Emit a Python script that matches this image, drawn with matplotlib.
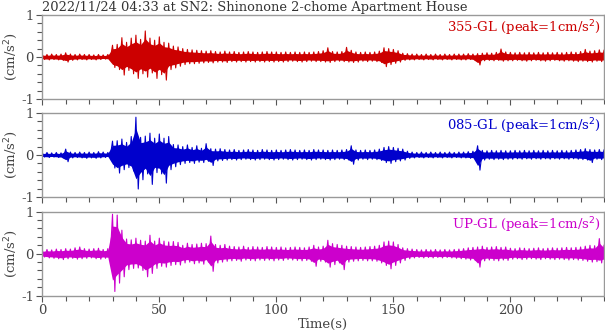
import numpy as np
import matplotlib
matplotlib.use("Agg")
import matplotlib.pyplot as plt
from matplotlib.ticker import MultipleLocator

plt.rcParams['font.family'] = ['DejaVu Serif']

# time axis: envelope samples every 2 s
time_s = np.arange(0, 241, 2)

# 355-GL envelope (cm/s^2)
hi_355 = [0.06,0.06,0.07,0.06,0.07,0.10,0.07,0.06,0.07,0.06,
          0.06,0.05,0.06,0.05,0.06,0.28,0.30,0.46,0.35,0.45,
          0.52,0.42,0.62,0.45,0.40,0.48,0.35,0.33,0.26,0.24,
          0.20,0.18,0.17,0.16,0.15,0.14,0.15,0.13,0.12,0.14,
          0.12,0.13,0.11,0.12,0.13,0.12,0.11,0.12,0.13,0.12,
          0.12,0.11,0.12,0.11,0.12,0.11,0.12,0.11,0.12,0.13,
          0.15,0.22,0.13,0.12,0.13,0.23,0.16,0.12,0.11,0.12,
          0.11,0.12,0.14,0.22,0.20,0.18,0.15,0.09,0.08,0.07,
          0.07,0.06,0.07,0.06,0.07,0.06,0.07,0.06,0.07,0.07,
          0.07,0.08,0.07,0.08,0.09,0.10,0.09,0.11,0.19,0.12,
          0.11,0.10,0.11,0.10,0.11,0.10,0.11,0.10,0.11,0.10,
          0.11,0.10,0.11,0.12,0.11,0.13,0.18,0.14,0.15,0.17,0.16]
lo_355 = [-0.06,-0.07,-0.06,-0.07,-0.08,-0.12,-0.08,-0.07,-0.06,-0.07,
          -0.06,-0.07,-0.06,-0.05,-0.06,-0.25,-0.30,-0.43,-0.32,-0.40,
          -0.51,-0.40,-0.48,-0.38,-0.51,-0.42,-0.55,-0.30,-0.26,-0.22,
          -0.18,-0.16,-0.16,-0.15,-0.14,-0.13,-0.14,-0.12,-0.12,-0.13,
          -0.11,-0.12,-0.11,-0.12,-0.11,-0.12,-0.11,-0.12,-0.11,-0.12,
          -0.11,-0.12,-0.11,-0.10,-0.11,-0.12,-0.11,-0.10,-0.11,-0.11,
          -0.12,-0.13,-0.11,-0.10,-0.11,-0.12,-0.13,-0.12,-0.10,-0.11,
          -0.10,-0.11,-0.13,-0.23,-0.18,-0.15,-0.12,-0.08,-0.07,-0.07,
          -0.06,-0.07,-0.06,-0.07,-0.06,-0.07,-0.06,-0.07,-0.06,-0.07,
          -0.07,-0.06,-0.08,-0.19,-0.09,-0.08,-0.09,-0.08,-0.10,-0.09,
          -0.09,-0.08,-0.09,-0.10,-0.09,-0.08,-0.09,-0.10,-0.09,-0.08,
          -0.09,-0.10,-0.09,-0.10,-0.11,-0.10,-0.11,-0.12,-0.10,-0.11,-0.10]

# 085-GL envelope
hi_085 = [0.05,0.06,0.05,0.06,0.05,0.14,0.07,0.06,0.07,0.06,
          0.07,0.06,0.08,0.07,0.06,0.33,0.34,0.38,0.30,0.44,
          0.90,0.42,0.45,0.52,0.40,0.50,0.40,0.44,0.25,0.24,
          0.20,0.24,0.18,0.22,0.16,0.27,0.15,0.14,0.15,0.13,
          0.12,0.13,0.11,0.12,0.13,0.12,0.11,0.13,0.12,0.11,
          0.12,0.11,0.12,0.13,0.12,0.11,0.12,0.11,0.13,0.12,
          0.12,0.11,0.12,0.11,0.12,0.13,0.22,0.12,0.11,0.12,
          0.11,0.12,0.14,0.18,0.20,0.18,0.16,0.14,0.09,0.07,
          0.06,0.07,0.06,0.07,0.06,0.07,0.06,0.07,0.06,0.07,
          0.07,0.08,0.09,0.22,0.11,0.10,0.11,0.10,0.11,0.10,
          0.10,0.11,0.10,0.11,0.10,0.11,0.10,0.11,0.10,0.11,
          0.10,0.11,0.10,0.11,0.12,0.13,0.15,0.13,0.12,0.13,0.12]
lo_085 = [-0.05,-0.06,-0.05,-0.06,-0.07,-0.16,-0.07,-0.06,-0.07,-0.08,
          -0.07,-0.08,-0.07,-0.06,-0.05,-0.31,-0.43,-0.35,-0.30,-0.38,
          -0.81,-0.59,-0.45,-0.70,-0.42,-0.45,-0.67,-0.35,-0.28,-0.23,
          -0.20,-0.18,-0.20,-0.17,-0.18,-0.15,-0.25,-0.14,-0.13,-0.12,
          -0.11,-0.12,-0.11,-0.10,-0.11,-0.12,-0.11,-0.10,-0.11,-0.12,
          -0.11,-0.10,-0.11,-0.12,-0.11,-0.10,-0.11,-0.12,-0.11,-0.10,
          -0.11,-0.12,-0.11,-0.10,-0.11,-0.12,-0.22,-0.12,-0.10,-0.11,
          -0.10,-0.11,-0.13,-0.18,-0.20,-0.16,-0.14,-0.12,-0.08,-0.07,
          -0.06,-0.07,-0.06,-0.07,-0.06,-0.07,-0.06,-0.07,-0.06,-0.07,
          -0.07,-0.08,-0.09,-0.36,-0.12,-0.10,-0.11,-0.10,-0.11,-0.10,
          -0.10,-0.09,-0.10,-0.09,-0.10,-0.09,-0.10,-0.09,-0.10,-0.09,
          -0.10,-0.09,-0.10,-0.09,-0.10,-0.11,-0.12,-0.18,-0.10,-0.11,-0.10]

# UP-GL envelope
hi_up = [0.08,0.10,0.09,0.11,0.10,0.12,0.11,0.14,0.16,0.12,
         0.11,0.12,0.13,0.10,0.12,0.94,0.92,0.56,0.35,0.33,
         0.37,0.32,0.30,0.44,0.30,0.37,0.30,0.28,0.29,0.27,
         0.20,0.25,0.22,0.23,0.25,0.24,0.42,0.22,0.20,0.22,
         0.18,0.17,0.16,0.18,0.15,0.17,0.16,0.15,0.17,0.16,
         0.15,0.16,0.14,0.15,0.16,0.15,0.14,0.16,0.20,0.16,
         0.18,0.32,0.24,0.22,0.20,0.18,0.17,0.16,0.15,0.16,
         0.17,0.18,0.20,0.28,0.30,0.28,0.22,0.14,0.12,0.11,
         0.10,0.09,0.10,0.09,0.10,0.09,0.10,0.09,0.10,0.11,
         0.12,0.14,0.15,0.16,0.18,0.15,0.16,0.17,0.15,0.16,
         0.13,0.12,0.14,0.13,0.12,0.13,0.14,0.12,0.13,0.14,
         0.13,0.14,0.15,0.14,0.15,0.16,0.18,0.20,0.19,0.36,0.20]
lo_up = [-0.08,-0.10,-0.11,-0.12,-0.14,-0.12,-0.11,-0.13,-0.12,-0.11,
         -0.10,-0.12,-0.13,-0.11,-0.12,-0.90,-0.70,-0.55,-0.38,-0.35,
         -0.34,-0.40,-0.55,-0.47,-0.35,-0.30,-0.32,-0.28,-0.26,-0.27,
         -0.22,-0.20,-0.24,-0.22,-0.25,-0.20,-0.42,-0.22,-0.20,-0.18,
         -0.17,-0.16,-0.18,-0.15,-0.16,-0.17,-0.15,-0.16,-0.15,-0.17,
         -0.15,-0.16,-0.14,-0.15,-0.16,-0.17,-0.16,-0.18,-0.30,-0.18,
         -0.20,-0.32,-0.26,-0.22,-0.38,-0.20,-0.18,-0.17,-0.16,-0.17,
         -0.17,-0.18,-0.22,-0.28,-0.36,-0.28,-0.22,-0.16,-0.12,-0.10,
         -0.09,-0.10,-0.09,-0.10,-0.09,-0.10,-0.09,-0.10,-0.11,-0.12,
         -0.13,-0.15,-0.16,-0.32,-0.17,-0.15,-0.16,-0.17,-0.15,-0.16,
         -0.13,-0.12,-0.14,-0.13,-0.12,-0.13,-0.14,-0.12,-0.13,-0.14,
         -0.13,-0.14,-0.15,-0.14,-0.15,-0.16,-0.18,-0.20,-0.19,-0.22,-0.18]

components = ["355-GL", "085-GL", "UP-GL"]
colors = ["#cc0000", "#0000cc", "#cc00cc"]
highs = [hi_355, hi_085, hi_up]
lows = [lo_355, lo_085, lo_up]
title = "2022/11/24 04:33 at SN2: Shinonone 2-chome Apartment House"

W, H = 605, 334
fig = plt.figure(figsize=(W / 100, H / 100), dpi=100)
left = 42.3 / W
width = (604 - 42.3) / W
tops = [15, 113, 211.7]
ph = 84

spine_c = "#999999"
text_c = "#444444"

for i in range(3):
    ax = fig.add_axes([left, 1 - (tops[i] + ph) / H, width, ph / H])
    hi = np.asarray(highs[i])
    lo = np.asarray(lows[i])
    # trace drawn as an oscillation between the read envelope values
    tx = np.column_stack([time_s, time_s + 1.0]).ravel()[:-1]
    ty = np.column_stack([hi, lo]).ravel()[:-1]
    ax.fill_between(time_s, 0.7 * lo, 0.7 * hi, color=colors[i], lw=0)
    ax.plot(tx, ty, color=colors[i], lw=0.8)
    ax.set_xlim(0, 240)
    ax.set_ylim(-1, 1)
    ax.xaxis.set_major_locator(MultipleLocator(50))
    ax.xaxis.set_minor_locator(MultipleLocator(10))
    ax.yaxis.set_major_locator(MultipleLocator(1))
    ax.yaxis.set_minor_locator(MultipleLocator(0.2))
    for s in ax.spines.values():
        s.set_color(spine_c)
        s.set_linewidth(1.0)
    ax.tick_params(which="both", direction="out", colors="#555555",
                   labelcolor=text_c, labelsize=9.5, width=0.8)
    ax.tick_params(which="major", length=4, pad=2)
    ax.tick_params(which="minor", length=3.5)
    ax.set_yticks([-1, 0, 1])
    ax.set_yticklabels(["-1", "0", "1"])
    ax.set_ylabel("(cm/s$^2$)", color=text_c, fontsize=9.5, labelpad=1)
    if i < 2:
        ax.tick_params(axis="x", labelbottom=False)
    else:
        ax.set_xlabel("Time(s)", color=text_c, fontsize=9.5, labelpad=1)
    ax.text(0.995, 0.96, f"{components[i]} (peak=1cm/s$^2$)", transform=ax.transAxes,
            ha="right", va="top", color=colors[i], fontsize=9.5)

fig.text(left, 1 - 1 / H, title, ha="left", va="top", color="#333333", fontsize=9.4)

fig.savefig("out.png", dpi=100)
